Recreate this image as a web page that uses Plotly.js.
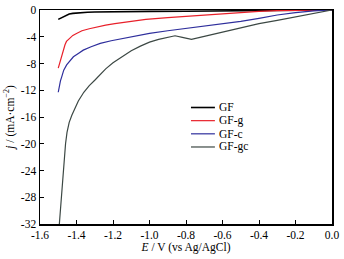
<!DOCTYPE html>
<html><head><meta charset="utf-8">
<script src="https://cdn.plot.ly/plotly-3.0.1.min.js"></script>
<style>html,body{margin:0;padding:0;background:#fff}</style>
</head><body>
<div id="chart" style="width:344px;height:259px"></div>
<script>
const seriesNames = ["GF", "GF-g", "GF-c", "GF-gc"];

const gfE = [-1.50, -1.49, -1.48, -1.46, -1.44, -1.42, -1.40, -1.38, -1.34, -1.30, -1.20, -1.00, -0.80, -0.60, -0.40, -0.20, 0.0];
const gfJ = [-1.40, -1.25, -1.10, -0.80, -0.60, -0.50, -0.43, -0.38, -0.33, -0.30, -0.25, -0.20, -0.18, -0.15, -0.10, -0.05, 0.0];

const gfgE = [-1.50, -1.495, -1.488, -1.481, -1.475, -1.470, -1.463, -1.455, -1.445, -1.436, -1.42, -1.40, -1.37, -1.33, -1.28, -1.24, -1.19, -1.14, -1.08, -1.02, -0.90, -0.80, -0.70, -0.60, -0.50, -0.40, -0.30, -0.20, -0.10, 0.0];
const gfgJ = [-8.7, -8.2, -7.4, -6.7, -6.2, -5.6, -5.2, -4.7, -4.4, -4.2, -3.8, -3.5, -3.1, -2.8, -2.45, -2.25, -2.05, -1.85, -1.6, -1.4, -1.15, -0.95, -0.8, -0.65, -0.42, -0.22, -0.1, -0.05, -0.02, 0.0];

const gfcE = [-1.50, -1.495, -1.488, -1.481, -1.470, -1.454, -1.435, -1.417, -1.39, -1.363, -1.32, -1.27, -1.21, -1.14, -1.07, -1.00, -0.90, -0.80, -0.70, -0.60, -0.50, -0.40, -0.30, -0.20, -0.10, 0.0];
const gfcJ = [-12.3, -11.3, -10.6, -10.0, -9.0, -8.2, -7.5, -7.0, -6.5, -6.0, -5.5, -5.0, -4.6, -4.2, -3.8, -3.5, -3.1, -2.75, -2.4, -2.1, -1.7, -1.25, -0.75, -0.38, -0.13, 0.0];

const gfgcE = [-1.494, -1.485, -1.476, -1.468, -1.460, -1.452, -1.44, -1.425, -1.41, -1.39, -1.36, -1.33, -1.30, -1.27, -1.24, -1.20, -1.15, -1.10, -1.05, -1.00, -0.95, -0.90, -0.86, -0.82, -0.77, -0.70, -0.60, -0.50, -0.40, -0.30, -0.20, -0.10, 0.0];
const gfgcJ = [-32.0, -28.5, -25.5, -22.5, -20.0, -18.3, -16.8, -15.7, -14.7, -13.6, -12.3, -11.3, -10.5, -9.7, -8.8, -7.9, -7.0, -6.1, -5.4, -4.8, -4.4, -4.1, -3.85, -4.1, -4.4, -3.95, -3.3, -2.7, -2.05, -1.55, -1.05, -0.55, 0.0];

const xTickVals = [-1.6, -1.4, -1.2, -1.0, -0.8, -0.6, -0.4, -0.2, 0.0];
const xTickText = ["-1.6", "-1.4", "-1.2", "-1.0", "-0.8", "-0.6", "-0.4", "-0.2", "0.0"];
const yTickVals = [0, -4, -8, -12, -16, -20, -24, -28, -32];
const yTickText = ["0", "-4", "-8", "-12", "-16", "-20", "-24", "-28", "-32"];

const colors = ["#000000", "#e8202a", "#2e2e9c", "#3c4844"];
const xs = [gfE, gfgE, gfcE, gfgcE];
const ys = [gfJ, gfgJ, gfcJ, gfgcJ];

const traces = seriesNames.map((n, i) => ({
  x: xs[i], y: ys[i], name: n, type: "scatter", mode: "lines",
  line: {color: colors[i], width: i === 0 ? 1.6 : 1.2}
}));

const fam = "Liberation Serif, Times New Roman, serif";
const font = {family: fam, size: 11.5, color: "#000"};

// hand-drawn legend (paper coordinates)
const legTop = 0.5444, legStep = 0.0615;
const shapes = [], annotations = [];
seriesNames.forEach((n, i) => {
  const yy = legTop - i * legStep;
  shapes.push({type: "line", xref: "paper", yref: "paper", x0: 0.517, x1: 0.599, y0: yy, y1: yy,
               line: {color: colors[i], width: i === 0 ? 1.6 : 1.2}});
  annotations.push({xref: "paper", yref: "paper", x: 0.606, y: yy, xanchor: "left", yanchor: "middle",
               text: n, showarrow: false, font: {family: fam, size: 11.5, color: "#000"}});
});

const layout = {
  width: 344, height: 259,
  margin: {l: 40, r: 12, t: 10, b: 35},
  paper_bgcolor: "#fff", plot_bgcolor: "#fff",
  font: font,
  showlegend: false,
  shapes: shapes, annotations: annotations,
  xaxis: {
    range: [-1.6, 0.0], tickvals: xTickVals, ticktext: xTickText,
    ticks: "inside", ticklen: 4, tickwidth: 1, tickcolor: "#000",
    showline: true, linecolor: "#000", linewidth: 1.5, mirror: true,
    showgrid: false, zeroline: false,
    title: {text: "<i>E</i> / V (vs Ag/AgCl)", font: {family: fam, size: 11.5, color: "#000"}, standoff: 2}
  },
  yaxis: {
    range: [-32, 0], tickvals: yTickVals, ticktext: yTickText,
    ticks: "inside", ticklen: 4, tickwidth: 1, tickcolor: "#000",
    showline: true, linecolor: "#000", linewidth: 1.5, mirror: true,
    showgrid: false, zeroline: false,
    title: {text: "<i>j</i> / (mA·cm<sup>−2</sup>)", font: {family: fam, size: 11.5, color: "#000"}, standoff: 4}
  }
};

Plotly.newPlot("chart", traces, layout, {displayModeBar: false, staticPlot: true});
</script>
</body></html>
